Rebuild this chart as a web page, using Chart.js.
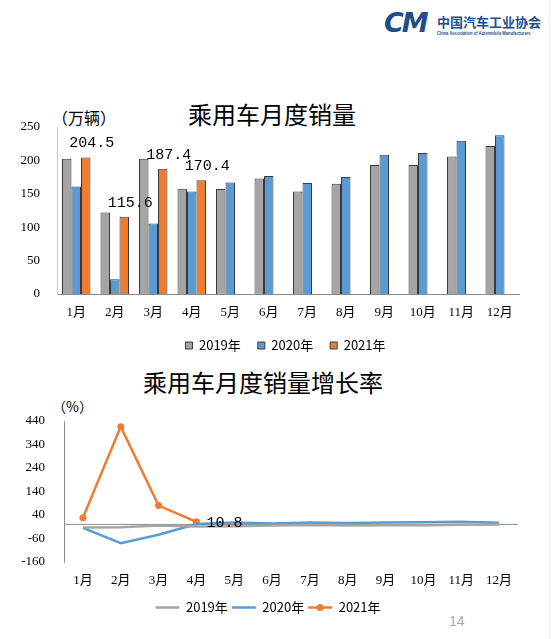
<!DOCTYPE html>
<html>
<head>
<meta charset="utf-8">
<script src="https://cdn.jsdelivr.net/npm/chart.js@4.4.1/dist/chart.umd.min.js"></script>
<style>
  body { margin: 0; background: #fff; }
  #page { position: relative; width: 556px; height: 639px; overflow: hidden; font-family: 'Noto Sans CJK SC', sans-serif; }
  .txt { position: absolute; white-space: nowrap; color: #000; }
  canvas { position: absolute; left: 0; }
</style>
</head>
<body>
<div id="page">
  <div class="txt" style="left:384px;top:7px;font:italic 900 27px 'DejaVu Sans';color:#1f4e8c;letter-spacing:-2px;">CM</div>
  <div class="txt" style="left:437px;top:12px;font:700 13px 'Noto Sans CJK SC';color:#1f4e8c;">中国汽车工业协会</div>
  <div class="txt" style="left:437px;top:30px;font:700 5px 'Liberation Sans';color:#1f4e8c;transform:scaleX(0.82);transform-origin:left top;">China Association of Automobile Manufacturers</div>

  <div class="txt" style="left:188px;top:96px;font:400 24px 'Noto Sans CJK SC';">乘用车月度销量</div>
  <div class="txt" style="left:52px;top:105px;font:400 16px 'Noto Sans CJK SC';">（万辆）</div>

  <div class="txt" style="left:143px;top:364px;font:400 24px 'Noto Sans CJK SC';">乘用车月度销量增长率</div>
  <div class="txt" style="left:52px;top:396px;font:400 14px 'Noto Sans CJK SC';">（%）</div>

  <div class="txt" style="left:449px;top:613px;font:400 14px 'Liberation Sans';color:#aaa;">14</div>
  <div style="position:absolute;left:549px;top:0;width:1px;height:639px;background:#eee;"></div>

  <canvas id="bar" style="top:90px;width:556px;height:272px;"></canvas>
  <canvas id="line" style="top:390px;width:556px;height:234px;"></canvas>
</div>
<script>
const months = ['1月', '2月', '3月', '4月', '5月', '6月', '7月', '8月', '9月', '10月', '11月', '12月'];
const years = ['2019年', '2020年', '2021年'];

// 月度销量（万辆）
const sales2019 = [202.5, 122, 202.5, 157.5, 157, 173, 153.5, 165, 193, 193, 206, 221.5];
const sales2020 = [161, 22, 105.5, 153.5, 167, 176.5, 166, 175, 208.5, 211, 229.5, 237.5];
const sales2021 = [204.5, 115.6, 187.4, 170.4];

// 增长率（%）
const growth2019 = [-13, -12, -5, -9, -8, -5, -3, -5, -4, -4, -2, 0];
const growth2020 = [-15, -80, -44, 2, 8, 4, 8, 6, 8, 9, 11, 7];
const growth2021 = [28, 416, 80, 10.8];

const salesTicks = [0, 50, 100, 150, 200, 250];
const growthTicks = [-160, -60, 40, 140, 240, 340, 440];

const colors = ['#a5a5a5', '#5b9bd5', '#ed7d31'];
const serif = "'Liberation Serif', 'Noto Sans CJK SC'";

Chart.defaults.font.family = serif;
Chart.defaults.color = '#000';

// move the legend sideways (it is centred under the plot by default)
const legendShift = dx => ({
  id: 'legendShift',
  afterLayout(chart) {
    chart.legend.left += dx;
    chart.legend.right += dx;
  }
});

// labels on the 2021 bars
const barLabels = {
  id: 'barLabels',
  afterDatasetsDraw(chart) {
    const ctx = chart.ctx;
    const meta = chart.getDatasetMeta(2);
    ctx.save();
    ctx.font = "15px 'Liberation Mono'";
    ctx.fillStyle = '#000';
    ctx.textAlign = 'center';
    ctx.textBaseline = 'middle';
    meta.data.forEach((bar, i) => {
      ctx.fillText(sales2021[i].toFixed(1), bar.x + 6, bar.y - 14);
    });
    ctx.restore();
  }
};

// zero line, last 2021 label, dot in the 2021 legend item
const zeroLine = {
  id: 'zeroLine',
  beforeDatasetsDraw(chart) {
    const { ctx, chartArea, scales } = chart;
    const y = scales.y.getPixelForValue(0);
    ctx.save();
    ctx.strokeStyle = '#8c8c8c';
    ctx.lineWidth = 1;
    ctx.beginPath();
    ctx.moveTo(chartArea.left, y);
    ctx.lineTo(chartArea.right, y);
    ctx.stroke();
    ctx.restore();
  },
  afterDatasetsDraw(chart) {
    const ctx = chart.ctx;
    const meta = chart.getDatasetMeta(2);
    const last = meta.data[meta.data.length - 1];
    ctx.save();
    ctx.font = "15px 'Liberation Mono'";
    ctx.fillStyle = '#000';
    ctx.textAlign = 'left';
    ctx.textBaseline = 'middle';
    ctx.fillText(String(growth2021[growth2021.length - 1]), last.x + 10, last.y + 1);
    ctx.restore();
  },
  afterDraw(chart) {
    const box = chart.legend.legendHitBoxes[2];
    if (!box) return;
    const ctx = chart.ctx;
    ctx.save();
    ctx.fillStyle = colors[2];
    ctx.beginPath();
    ctx.arc(box.left + 12, box.top + box.height / 2, 3.5, 0, Math.PI * 2);
    ctx.fill();
    ctx.restore();
  }
};

new Chart(document.getElementById('bar'), {
  type: 'bar',
  data: {
    labels: months,
    datasets: [sales2019, sales2020, sales2021].map((d, i) => ({
      label: years[i],
      data: d,
      backgroundColor: colors[i],
      borderColor: '#3a3a3a',
      borderWidth: 1,
      barPercentage: 1,
      categoryPercentage: 0.74
    }))
  },
  options: {
    responsive: false,
    animation: false,
    devicePixelRatio: 1,
    layout: { padding: { left: 0, right: 37, top: 37, bottom: 0 } },
    plugins: {
      title: { display: false },
      tooltip: { enabled: false },
      legend: {
        position: 'bottom',
        labels: {
          boxWidth: 7,
          boxHeight: 7,
          padding: 17,
          font: { size: 13, family: "'Noto Sans CJK SC'" },
          generateLabels: chart => chart.data.datasets.map((ds, i) => ({
            text: ds.label,
            fillStyle: ds.backgroundColor,
            strokeStyle: '#3a3a3a',
            lineWidth: 1,
            datasetIndex: i
          }))
        }
      }
    },
    scales: {
      x: {
        afterFit: s => { s.height = 28; },
        grid: { display: false, drawTicks: false },
        border: { display: true, color: '#8c8c8c' },
        ticks: { padding: 11, font: { size: 13 } }
      },
      y: {
        min: 0,
        max: 250,
        afterFit: s => { s.width = 57; },
        afterBuildTicks: s => { s.ticks = salesTicks.map(v => ({ value: v })); },
        grid: { display: false, drawTicks: false },
        border: { display: true, color: '#c8c8c8' },
        ticks: { padding: 17, font: { size: 13 } }
      }
    }
  },
  plugins: [barLabels, legendShift(26)]
});

new Chart(document.getElementById('line'), {
  type: 'line',
  data: {
    labels: months,
    datasets: [growth2019, growth2020, growth2021].map((d, i) => ({
      label: years[i],
      data: d,
      borderColor: colors[i],
      backgroundColor: colors[i],
      borderWidth: 2.5,
      pointRadius: i === 2 ? 3.5 : 0,
      pointBorderWidth: 0,
      tension: 0
    }))
  },
  options: {
    responsive: false,
    animation: false,
    devicePixelRatio: 1,
    layout: { padding: { left: 0, right: 38, top: 31, bottom: 0 } },
    plugins: {
      title: { display: false },
      tooltip: { enabled: false },
      legend: {
        position: 'bottom',
        labels: {
          usePointStyle: true,
          pointStyleWidth: 24,
          padding: 4,
          font: { size: 13, family: "'Noto Sans CJK SC'" },
          generateLabels: chart => chart.data.datasets.map((ds, i) => ({
            text: ds.label,
            fillStyle: ds.borderColor,
            strokeStyle: ds.borderColor,
            lineWidth: 2.5,
            pointStyle: 'line',
            datasetIndex: i
          }))
        }
      }
    },
    scales: {
      x: {
        offset: true,
        afterFit: s => { s.height = 35; },
        grid: { display: false, drawTicks: false },
        border: { display: false },
        ticks: { padding: 11, font: { size: 13 } }
      },
      y: {
        min: -160,
        max: 440,
        afterFit: s => { s.width = 64; },
        afterBuildTicks: s => { s.ticks = growthTicks.map(v => ({ value: v })); },
        grid: { display: false, drawTicks: false },
        border: { display: true, color: '#8c8c8c' },
        ticks: { padding: 19, font: { size: 13 } }
      }
    }
  },
  plugins: [zeroLine, legendShift(9)]
});
</script>
</body>
</html>
